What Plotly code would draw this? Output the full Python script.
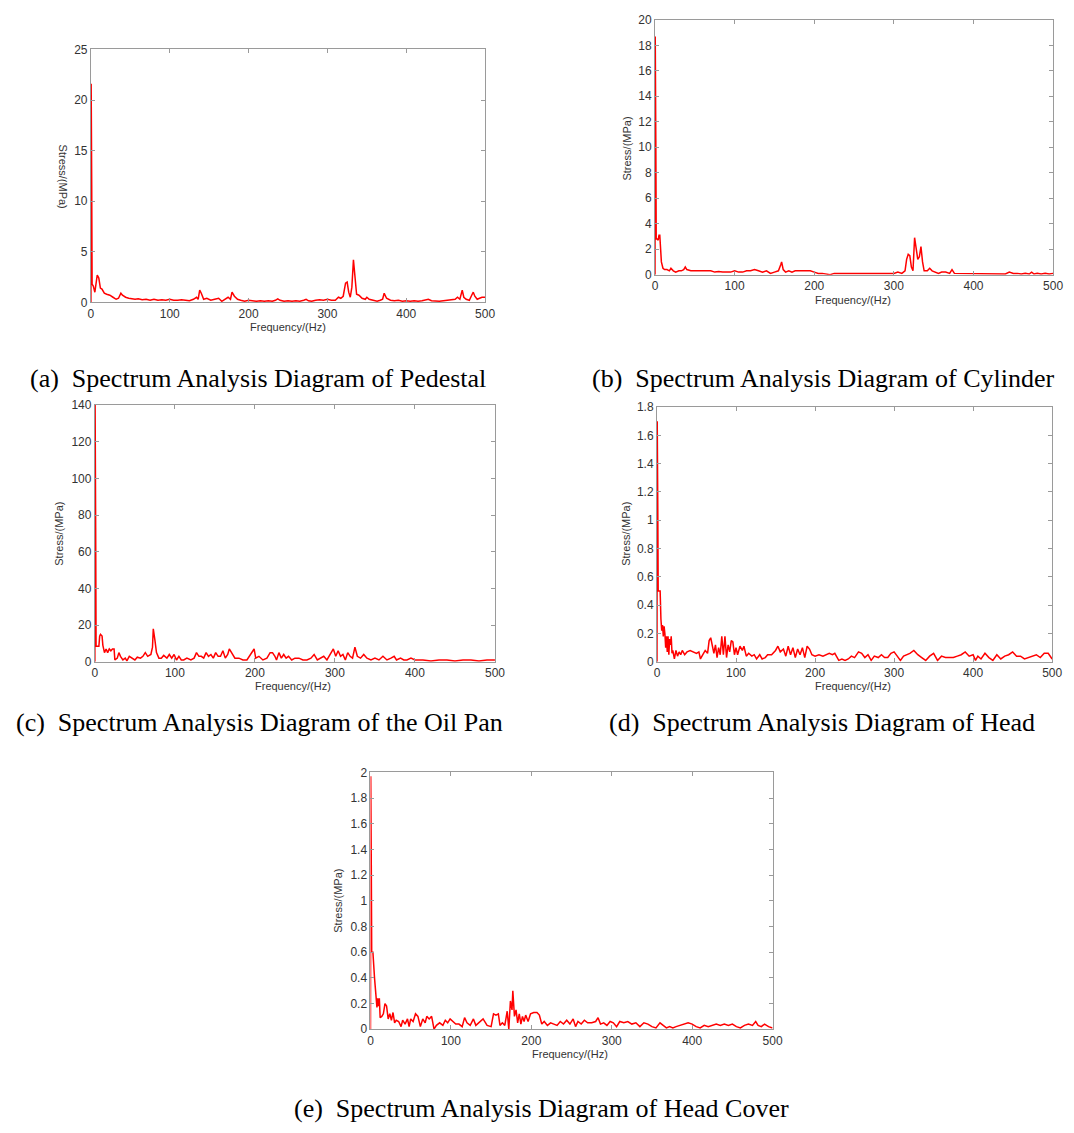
import plotly.graph_objects as go

W, H = 1074, 1133

# ---------------- DATA ----------------
freq_a = [0, 0.3, 1.0, 1.5, 3, 5, 7, 8, 10, 12, 14, 17, 20, 24, 28, 32, 35, 38, 40, 44, 48, 52, 56, 60, 65, 70, 75, 80, 85, 90, 95,
          100, 105, 110, 115, 120, 125, 130, 134, 136, 138, 140, 143, 147, 152, 157, 162, 166, 170, 174, 177, 179, 182, 186, 190, 195,
          200, 205, 210, 215, 220, 225, 230, 234, 237, 240, 245, 250, 255, 260, 265, 270, 273, 276, 280, 285, 290, 295,
          300, 305, 310, 314, 317, 320, 323, 325, 327, 329, 331, 333, 335, 337, 340, 344, 348, 350, 353, 358, 363, 367, 370, 372, 375,
          380, 385, 390, 395, 400, 405, 410, 415, 420, 425, 428, 432, 437, 442, 447, 452, 457, 462, 465, 468, 471, 473, 476,
          480, 483, 485, 487, 490, 493, 496, 500]
stress_a = [0, 21.6, 11.6, 1.8, 1.6, 1.0, 2.2, 2.7, 2.4, 1.4, 1.3, 0.9, 0.8, 0.7, 0.5, 0.3, 0.4, 0.9, 0.7, 0.5, 0.4, 0.35, 0.3, 0.35, 0.25, 0.3, 0.2, 0.3, 0.2, 0.25, 0.2,
            0.3, 0.2, 0.2, 0.25, 0.2, 0.15, 0.3, 0.5, 0.3, 1.2, 0.9, 0.3, 0.4, 0.2, 0.3, 0.4, 0.1, 0.3, 0.5, 0.3, 1.0, 0.6, 0.3, 0.2, 0.1,
            0.2, 0.15, 0.1, 0.15, 0.1, 0.15, 0.1, 0.2, 0.35, 0.2, 0.1, 0.15, 0.1, 0.15, 0.1, 0.2, 0.3, 0.15, 0.1, 0.2, 0.25, 0.2,
            0.3, 0.2, 0.2, 0.5, 0.4, 0.6, 1.9, 2.0, 1.0, 0.5, 1.5, 4.2, 2.0, 0.8, 0.7, 0.4, 0.3, 0.5, 0.3, 0.2, 0.1, 0.2, 0.3, 0.9, 0.4,
            0.2, 0.15, 0.2, 0.1, 0.15, 0.1, 0.15, 0.1, 0.15, 0.2, 0.3, 0.15, 0.1, 0.1, 0.15, 0.2, 0.25, 0.3, 0.5, 0.3, 1.2, 0.5, 0.3,
            0.2, 0.7, 1.0, 0.6, 0.3, 0.4, 0.5, 0.5]

freq_b = [0, 0.3, 1.0, 1.5, 3, 4, 5, 6, 7, 8, 10, 12, 15, 18, 20, 23, 26, 30, 33, 36, 38, 40, 45, 50, 55, 60, 65, 70, 75, 80, 85, 90, 95,
          100, 105, 110, 115, 120, 125, 130, 135, 140, 145, 150, 155, 158, 159, 161, 164, 168, 172, 176, 180, 185, 190, 195,
          200, 205, 210, 215, 220, 225, 230, 240, 250, 260, 270, 280, 290, 300, 305, 310, 314, 316, 318, 320, 322, 324, 326, 328,
          330, 332, 334, 336, 338, 342, 345, 348, 352, 356, 360, 365, 370, 373, 376, 380, 390, 400, 410, 420, 430, 440, 445, 450,
          455, 460, 465, 470, 473, 476, 480, 485, 490, 495, 500]
stress_b = [0, 18.7, 10.6, 2.8, 2.8, 2.7, 3.1, 3.1, 2.0, 1.0, 0.5, 0.4, 0.4, 0.3, 0.5, 0.3, 0.2, 0.3, 0.3, 0.4, 0.6, 0.4, 0.3, 0.3, 0.25, 0.3, 0.25, 0.3, 0.2, 0.25, 0.2, 0.2, 0.2,
            0.3, 0.2, 0.2, 0.3, 0.3, 0.4, 0.3, 0.2, 0.3, 0.1, 0.2, 0.3, 0.8, 1.0, 0.4, 0.2, 0.3, 0.2, 0.3, 0.3, 0.3, 0.25, 0.3,
            0.2, 0.1, 0.1, 0.05, 0.0, 0.1, 0.1, 0.1, 0.1, 0.05, 0.1, 0.05, 0.1, 0.1, 0.2, 0.1, 0.3, 1.2, 1.6, 1.5, 0.6, 0.3, 2.9, 2.0,
            1.2, 1.4, 2.2, 1.0, 0.3, 0.3, 0.5, 0.3, 0.2, 0.1, 0.2, 0.2, 0.1, 0.4, 0.1, 0.1, 0.05, 0.05, 0.05, 0.05, 0.05, 0.05, 0.2, 0.1,
            0.1, 0.05, 0.1, 0.05, 0.2, 0.05, 0.1, 0.05, 0.1, 0.05, 0.1]

freq_c = [0, 0.3, 1.0, 1.5, 3, 5, 6, 7, 9, 10, 12, 14, 16, 18, 20, 22, 24, 25, 28, 30, 32, 35, 38, 40, 43, 46, 50, 53, 57, 60, 63, 66, 70,
          72, 73, 75, 77, 80, 83, 86, 90, 93, 96, 99, 102, 105, 108, 111, 115, 120, 124, 127, 130, 133, 136, 139, 142, 145, 148,
          151, 154, 157, 160, 163, 166, 168, 171, 175, 180, 185, 190, 195, 199, 201, 205, 210, 215, 219, 222, 225, 227, 230, 233,
          236, 239, 242, 246, 250, 255, 260, 265, 270, 274, 278, 282, 286, 290, 294, 298, 301, 304, 307, 310, 313, 316, 319, 322,
          325, 328, 332, 336, 340, 345, 350, 355, 360, 365, 370, 374, 377, 382, 386, 390, 395, 400, 410, 420, 430, 440, 450, 460,
          470, 480, 490, 500]
stress_c = [0, 140, 73, 8.5, 8.5, 8.5, 14, 15, 14, 9, 5, 7, 5, 7, 6, 7, 7, 1, 2, 5, 3, 1, 2, 0.5, 3, 2, 1, 2.5, 2, 3, 5, 3, 4,
            8, 18, 12, 5, 2, 2, 3.5, 2, 4, 2, 4, 1, 3, 1, 1, 2, 1, 2, 5, 3, 3, 2, 5, 3, 4, 2,
            5, 3, 3, 6, 2, 4, 7, 5, 2, 2, 1, 1, 4, 7, 2, 3, 1, 2, 5, 5, 3, 1, 5, 2,
            4, 2, 3, 1, 2, 2, 1, 1, 2, 4, 1, 2, 3, 1, 4, 7, 3, 6, 3, 4, 1, 5, 3, 2,
            8, 3, 2, 4, 2, 1, 2, 1, 3, 1, 2, 3, 1, 2, 1, 1, 2, 1, 1, 0.5, 1, 1, 0.5, 1,
            1, 0.5, 1, 1]

freq_d = [0, 0.3, 1.0, 1.5, 3, 4, 5, 6, 7, 8, 9, 10, 11, 12, 13, 14, 15, 16, 17, 18, 19, 20, 22, 24, 26, 28, 30, 32, 35, 38, 42, 46,
          50, 53, 55, 58, 61, 64, 66, 68, 70, 72, 74, 76, 78, 80, 82, 84, 86, 88, 90, 92, 94, 96, 98, 100, 102, 105, 108, 110, 113,
          116, 120, 123, 126, 130, 133, 137, 140, 145, 150, 153, 156, 160, 163, 166, 169, 172, 175, 178, 181, 184, 187, 190, 193,
          196, 200, 205, 210, 214, 218, 222, 225, 230, 234, 238, 242, 246, 250, 255, 259, 263, 267, 271, 275, 280, 284, 288, 292,
          296, 300, 304, 308, 312, 316, 320, 325, 330, 335, 340, 345, 350, 355, 360, 365, 370, 375, 380, 385, 390, 395, 400, 403,
          406, 410, 415, 420, 425, 430, 435, 440, 445, 450, 455, 460, 465, 470, 475, 480, 485, 490, 495, 500]
stress_d = [0, 1.7, 1.1, 0.5, 0.5, 0.5, 0.3, 0.22, 0.26, 0.18, 0.25, 0.2, 0.1, 0.18, 0.07, 0.18, 0.05, 0.16, 0.12, 0.18, 0.06, 0.08, 0.02, 0.08, 0.04, 0.07, 0.05, 0.08, 0.05, 0.07, 0.08, 0.07,
            0.06, 0.07, 0.02, 0.05, 0.08, 0.06, 0.15, 0.17, 0.12, 0.06, 0.12, 0.03, 0.1, 0.05, 0.18, 0.05, 0.18, 0.03, 0.12, 0.07, 0.15, 0.14, 0.05, 0.1, 0.05, 0.11, 0.08, 0.11, 0.04,
            0.06, 0.04, 0.05, 0.02, 0.05, 0.02, 0.03, 0.05, 0.05, 0.08, 0.11, 0.07, 0.09, 0.04, 0.11, 0.05, 0.1, 0.03, 0.09, 0.05, 0.1, 0.03, 0.11, 0.09,
            0.05, 0.04, 0.05, 0.04, 0.05, 0.06, 0.05, 0.06, 0.01, 0.02, 0.01, 0.02, 0.04, 0.03, 0.07, 0.06, 0.03, 0.05, 0.01, 0.04, 0.03, 0.05, 0.03, 0.03,
            0.06, 0.07, 0.04, 0.01, 0.04, 0.05, 0.06, 0.08, 0.05, 0.03, 0.01, 0.04, 0.06, 0.01, 0.04, 0.03, 0.03, 0.03, 0.04, 0.05, 0.07, 0.04, 0.05, 0.01,
            0.04, 0.02, 0.06, 0.03, 0.01, 0.05, 0.02, 0.04, 0.05, 0.07, 0.04, 0.04, 0.02, 0.03, 0.04, 0.05, 0.03, 0.06, 0.06, 0.02]

freq_e = [0, 0.3, 1.0, 1.5, 3, 5, 6, 7, 8, 9, 10, 11, 12, 14, 16, 18, 20, 22, 24, 26, 28, 30, 32, 35, 38, 40, 43, 46, 48, 50, 53,
          56, 59, 62, 65, 68, 70, 73, 76, 79, 82, 86, 90, 93, 96, 99, 102, 106, 110, 114, 117, 120, 124, 128, 131, 135, 140, 145,
          150, 153, 156, 159, 161, 164, 167, 170, 172, 174, 176, 177, 179, 181, 183, 185, 187, 189, 191, 193, 196, 199, 203, 207,
          210, 213, 216, 220, 224, 228, 232, 236, 240, 244, 248, 252, 255, 258, 262, 266, 270, 275, 280, 283, 286, 290, 294, 298,
          302, 306, 310, 315, 320, 325, 330, 335, 340, 345, 350, 355, 360, 364, 368, 372, 376, 380, 385, 390, 395, 400, 405, 410,
          415, 420, 425, 430, 435, 440, 445, 450, 455, 460, 465, 470, 475, 479, 482, 486, 490, 495, 500]
stress_e = [0, 1.97, 1.27, 0.6, 0.6, 0.4, 0.3, 0.22, 0.17, 0.24, 0.18, 0.24, 0.09, 0.1, 0.12, 0.2, 0.18, 0.08, 0.12, 0.07, 0.13, 0.05, 0.07, 0.06, 0.02, 0.07, 0.04, 0.08, 0.02, 0.08, 0.06,
            0.12, 0.1, 0.02, 0.08, 0.05, 0.1, 0.08, 0.1, 0.0, 0.03, 0.05, 0.03, 0.07, 0.05, 0.08, 0.06, 0.04, 0.04, 0.02, 0.09, 0.05, 0.03, 0.08, 0.03, 0.05, 0.08, 0.03,
            0.02, 0.12, 0.11, 0.12, 0.03, 0.05, 0.03, 0.14, 0.0, 0.22, 0.15, 0.3, 0.1, 0.15, 0.05, 0.12, 0.04, 0.1, 0.06, 0.11, 0.06, 0.12, 0.13, 0.13,
            0.11, 0.04, 0.06, 0.03, 0.05, 0.04, 0.03, 0.06, 0.04, 0.07, 0.04, 0.08, 0.02, 0.06, 0.04, 0.07, 0.05, 0.05, 0.06, 0.09, 0.04, 0.05, 0.03, 0.06,
            0.05, 0.02, 0.06, 0.05, 0.06, 0.04, 0.05, 0.02, 0.05, 0.04, 0.02, 0.01, 0.05, 0.03, 0.01, 0.02, 0.01, 0.02, 0.03, 0.04, 0.05, 0.04, 0.02, 0.01,
            0.03, 0.02, 0.03, 0.04, 0.03, 0.04, 0.03, 0.04, 0.02, 0.01, 0.03, 0.04, 0.03, 0.06, 0.03, 0.02, 0.04, 0.02, 0.01]

captions = ["(a)  Spectrum Analysis Diagram of Pedestal",
            "(b)  Spectrum Analysis Diagram of Cylinder",
            "(c)  Spectrum Analysis Diagram of the Oil Pan",
            "(d)  Spectrum Analysis Diagram of Head",
            "(e)  Spectrum Analysis Diagram of Head Cover"]
y_max = [25, 20, 140, 1.8, 2]
y_step = [5, 2, 20, 0.2, 0.2]
x_title = "Frequency/(Hz)"
y_title = "Stress/(MPa)"

series = [(freq_a, stress_a), (freq_b, stress_b), (freq_c, stress_c), (freq_d, stress_d), (freq_e, stress_e)]

# ---------------- LAYOUT (pixel boxes) ----------------
boxes = [(89, 488, 43, 299), (660, 1063, 13, 271), (93, 498, 403, 663), (662, 1062, 405, 663), (372, 779, 775, 1035)]
cap_pos = [(258, 376), (830, 376), (260, 724), (829, 724), (545, 1115)]
ytitle_pos = [(61, 172), (632, 143), (57, 533), (631, 533), (339, 905)]
xtitle_pos = [(288, 324), (860, 297), (294, 688), (860, 687), (574, 1060)]

def px(x):
    return x / W

def py(y):
    return 1 - y / H

fig = go.Figure()
layout = dict(width=W, height=H, margin=dict(l=0, r=0, t=0, b=0),
              paper_bgcolor="white", plot_bgcolor="white", showlegend=False)
annotations = []
axis_gray = "#9a9a9a"
tick_font = dict(family="Liberation Sans, Arial", size=12, color="#333333")

for i, ((f, s), (x0, x1, y0, y1)) in enumerate(zip(series, boxes)):
    n = "" if i == 0 else str(i + 1)
    fig.add_trace(go.Scatter(x=f, y=s, mode="lines", line=dict(color="#ff0000", width=1.5),
                             xaxis="x" + n, yaxis="y" + n, hoverinfo="skip"))
    layout["xaxis" + n] = dict(domain=[px(x0), px(x1)], anchor="y" + n, range=[0, 500],
                               tick0=0, dtick=100, ticks="inside", ticklen=4, tickcolor=axis_gray,
                               showline=True, linecolor=axis_gray, linewidth=1, mirror="ticks",
                               showgrid=False, zeroline=False, tickfont=tick_font)
    layout["yaxis" + n] = dict(domain=[py(y1), py(y0)], anchor="x" + n, range=[0, y_max[i]],
                               tick0=0, dtick=y_step[i], ticks="inside", ticklen=4, tickcolor=axis_gray,
                               showline=True, linecolor=axis_gray, linewidth=1, mirror="ticks",
                               showgrid=False, zeroline=False, tickfont=tick_font)
    cx, cy = cap_pos[i]
    annotations.append(dict(text=captions[i], x=px(cx), y=py(cy), xref="paper", yref="paper",
                            showarrow=False, xanchor="center", yanchor="middle",
                            font=dict(family="Liberation Serif, Times New Roman", size=26, color="black")))
    tx, ty = xtitle_pos[i]
    annotations.append(dict(text=x_title, x=px(tx), y=py(ty), xref="paper", yref="paper",
                            showarrow=False, xanchor="center", yanchor="middle",
                            font=dict(family="Liberation Sans, Arial", size=11, color="#333333")))
    yx, yy = ytitle_pos[i]
    annotations.append(dict(text=y_title, x=px(yx), y=py(yy), xref="paper", yref="paper",
                            showarrow=False, xanchor="center", yanchor="middle",
                            textangle=90 if i == 0 else -90,
                            font=dict(family="Liberation Sans, Arial", size=11, color="#333333")))

layout["annotations"] = annotations
fig.update_layout(**layout)
fig.write_html("out.html", config={"displayModeBar": False},
               post_script="document.body.style.margin='0px';document.body.style.overflow='hidden';")
